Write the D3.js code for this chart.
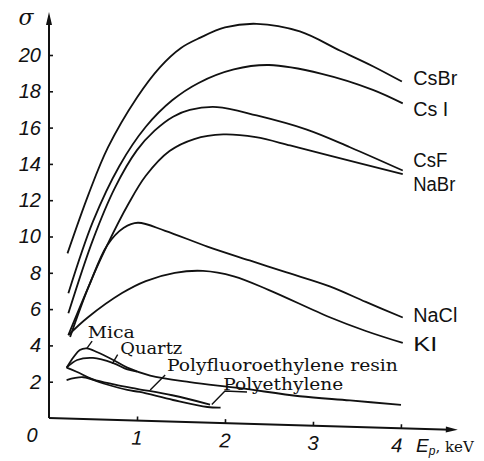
<!DOCTYPE html>
<html>
<head>
<meta charset="utf-8">
<script src="https://cdn.jsdelivr.net/npm/d3@7"></script>
<style>
  body { margin: 0; background: #fff; }
  svg { display: block; }
</style>
</head>
<body>
<div id="chart"></div>
<script>
// energy E (keV) vs secondary emission yield sigma
const csbr = [[0.21, 9.1], [0.45, 12.4], [0.67, 15.0], [1.0, 17.8], [1.26, 19.5], [1.5, 20.6], [1.72, 21.2], [2.0, 21.8], [2.36, 22.05], [2.85, 21.7], [3.31, 20.7], [3.68, 19.9], [4.01, 19.1]];
const csi = [[0.22, 6.9], [0.5, 10.9], [0.8, 14.0], [1.1, 16.2], [1.4, 17.7], [1.7, 18.7], [2.1, 19.5], [2.5, 19.8], [3.1, 19.4], [3.68, 18.6], [4.02, 17.9]];
const csf = [[0.22, 5.8], [0.5, 9.9], [0.75, 12.8], [1.0, 14.9], [1.2, 16.0], [1.41, 16.8], [1.6, 17.2], [1.91, 17.4], [2.36, 17.0], [2.93, 16.3], [3.42, 15.4], [4.02, 14.2]];
const nabr = [[0.24, 4.5], [0.45, 7.3], [0.66, 9.6], [0.9, 11.9], [1.1, 13.5], [1.37, 14.9], [1.65, 15.6], [1.98, 15.9], [2.35, 15.8], [2.74, 15.4], [3.19, 14.9], [4.02, 14.0]];
const nacl = [[0.22, 4.6], [0.45, 7.3], [0.66, 9.6], [0.85, 10.6], [1.01, 10.9], [1.32, 10.5], [1.8, 9.7], [2.28, 9.0], [2.7, 8.4], [3.19, 7.7], [3.6, 6.9], [4.02, 6.1]];
const ki = [[0.22, 4.6], [0.44, 5.6], [0.83, 7.0], [1.1, 7.7], [1.43, 8.2], [1.75, 8.35], [2.1, 8.1], [2.5, 7.4], [3.19, 6.0], [3.6, 5.3], [4.02, 4.7]];
const mica = [[0.2, 2.8], [0.28, 3.4], [0.35, 3.8], [0.43, 3.9], [0.55, 3.7], [0.73, 3.3], [0.89, 2.9], [1.15, 2.5], [1.6, 2.2], [2.17, 1.95], [2.85, 1.6], [3.42, 1.45], [4.0, 1.28]];
const quartz = [[0.2, 2.8], [0.32, 3.24], [0.5, 3.38], [0.73, 3.13], [0.89, 2.8], [1.0, 2.7]];
const polyfluoro = [[0.2, 2.8], [0.32, 2.58], [0.5, 2.2], [0.75, 1.95], [1.0, 1.75], [1.4, 1.45], [1.83, 1.0]];
const polyethylene = [[0.2, 2.12], [0.39, 2.3], [0.61, 2.0], [0.89, 1.67], [1.03, 1.58], [1.41, 1.19], [1.8, 0.86], [1.95, 0.85]];

const yTicks = [2, 4, 6, 8, 10, 12, 14, 16, 18, 20];
const xTicks = [1, 2, 3, 4];

// label text and where it sits (E, sigma)
const labelNames = ["CsBr", "Cs I", "CsF", "NaBr", "NaCl", "KI"];
const labelAt = [[4.14, 18.93], [4.14, 17.22], [4.14, 14.4], [4.14, 13.1], [4.14, 5.87], [4.14, 4.28]];
const noteNames = ["Mica", "Quartz", "Polyfluoroethylene resin", "Polyethylene"];
const noteAt = [[0.44, 4.47], [0.81, 3.64], [1.34, 2.78], [1.98, 1.82]];
const pointers = [
    [[0.43, 3.9], [0.49, 4.3]],
    [[0.72, 3.1], [0.78, 3.6]],
    [[1.15, 1.7], [1.32, 2.56]],
    [[1.85, 1.0], [2.0, 1.77], [2.25, 1.75]]
];

const svgWidth = 484, svgHeight = 461;
const left = 49;
const slant = 0.029;   // the scanned x axis drops to the right

const x = d3.scaleLinear().domain([0, 4]).range([0, 352]);
const y = d3.scaleLinear().domain([0, 20]).range([418, 55]);
const px = d => x(d[0]);
const py = d => y(d[1]) + slant * x(d[0]);

const svg = d3.select("#chart").append("svg")
    .attr("width", svgWidth)
    .attr("height", svgHeight);

const g = svg.append("g").attr("transform", `translate(${left},0)`);

// y axis
const yAxis = g.append("g")
    .call(d3.axisLeft(y).tickValues(yTicks).tickSizeInner(-4).tickSizeOuter(0).tickPadding(8));
yAxis.select(".domain").remove();
yAxis.selectAll("line").attr("stroke", "#111").attr("stroke-width", 1.6);
yAxis.selectAll("text")
    .attr("font-family", "'Liberation Sans', Arial, sans-serif")
    .attr("font-size", 20)
    .attr("font-style", "italic")
    .attr("fill", "#111");

g.append("line")
    .attr("x1", 0).attr("x2", 0)
    .attr("y1", y(0)).attr("y2", 20)
    .attr("stroke", "#111").attr("stroke-width", 2);
g.append("path")
    .attr("d", "M0,12 L-3,25 L3,25 Z")
    .attr("fill", "#111");

// x axis, tilted like the scan
const angle = Math.atan(slant) * 180 / Math.PI;
const xAxis = g.append("g")
    .attr("transform", `translate(0,${y(0)}) rotate(${angle})`)
    .call(d3.axisBottom(x).tickValues(xTicks).tickFormat(d3.format("d"))
        .tickSizeInner(-4).tickSizeOuter(0).tickPadding(10));
xAxis.select(".domain").remove();
xAxis.selectAll("line").attr("stroke", "#111").attr("stroke-width", 1.6);
xAxis.selectAll("text")
    .attr("font-family", "'Liberation Sans', Arial, sans-serif")
    .attr("font-size", 20)
    .attr("font-style", "italic")
    .attr("fill", "#111");
xAxis.selectAll(".tick text").filter(d => d === 4).attr("dx", -4);
xAxis.append("line")
    .attr("x1", 0).attr("x2", 402)
    .attr("y1", 0).attr("y2", 0)
    .attr("stroke", "#111").attr("stroke-width", 2);
xAxis.append("path")
    .attr("d", "M409,0 L397,-3 L397,3 Z")
    .attr("fill", "#111");

g.append("text")
    .attr("x", -17).attr("y", 442)
    .attr("text-anchor", "middle")
    .attr("font-family", "'Liberation Sans', Arial, sans-serif")
    .attr("font-size", 20).attr("font-style", "italic")
    .attr("fill", "#111")
    .text("0");

g.append("text")
    .attr("x", -23).attr("y", 25)
    .attr("text-anchor", "middle")
    .attr("font-family", "'DejaVu Serif', serif")
    .attr("font-size", 22).attr("font-style", "italic")
    .attr("fill", "#111")
    .text("σ");

const xLabel = g.append("text")
    .attr("x", 367).attr("y", 452)
    .attr("fill", "#111");
xLabel.append("tspan")
    .attr("font-family", "'Liberation Sans', Arial, sans-serif")
    .attr("font-size", 19).attr("font-style", "italic")
    .text("E");
xLabel.append("tspan")
    .attr("font-family", "'Liberation Sans', Arial, sans-serif")
    .attr("font-size", 12).attr("font-style", "italic")
    .attr("dy", 3)
    .text("p");
xLabel.append("tspan")
    .attr("font-family", "'DejaVu Serif', serif")
    .attr("font-size", 15)
    .attr("dy", -3)
    .text(", keV");

// curves
const line = d3.line()
    .x(px)
    .y(py)
    .curve(d3.curveCatmullRom.alpha(0.5));

const curves = [csbr, csi, csf, nabr, nacl, ki, mica, quartz, polyfluoro, polyethylene];
g.selectAll("path.curve")
    .data(curves)
    .enter().append("path")
    .attr("class", "curve")
    .attr("fill", "none")
    .attr("stroke", "#111")
    .attr("stroke-width", 1.8)
    .attr("d", line);

const straight = d3.line().x(px).y(py);
g.selectAll("path.pointer")
    .data(pointers)
    .enter().append("path")
    .attr("class", "pointer")
    .attr("fill", "none")
    .attr("stroke", "#111")
    .attr("stroke-width", 1.4)
    .attr("d", straight);

// labels at the right end
const labelWidths = [44, 35, 34, 42, 44, 24];
g.selectAll("text.name")
    .data(labelNames)
    .enter().append("text")
    .attr("class", "name")
    .attr("x", (d, i) => px(labelAt[i]))
    .attr("y", (d, i) => py(labelAt[i]))
    .attr("font-family", "'Liberation Sans', Arial, sans-serif")
    .attr("font-size", 20)
    .attr("textLength", (d, i) => labelWidths[i])
    .attr("lengthAdjust", "spacingAndGlyphs")
    .attr("fill", "#111")
    .text(d => d);

// notes for the low curves
const noteWidths = [47, 62, 231, 120];
g.selectAll("text.note")
    .data(noteNames)
    .enter().append("text")
    .attr("class", "note")
    .attr("x", (d, i) => px(noteAt[i]))
    .attr("y", (d, i) => py(noteAt[i]))
    .attr("font-family", "'DejaVu Serif', serif")
    .attr("font-size", 16)
    .attr("textLength", (d, i) => noteWidths[i])
    .attr("lengthAdjust", "spacingAndGlyphs")
    .attr("fill", "#111")
    .text(d => d);
</script>
</body>
</html>
